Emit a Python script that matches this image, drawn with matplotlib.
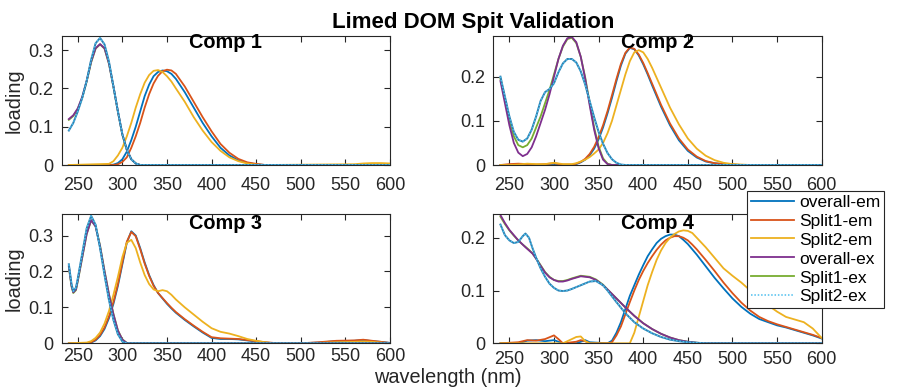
import matplotlib
matplotlib.use("Agg")
import matplotlib.pyplot as plt

plt.rcParams['font.family'] = ['Liberation Sans', 'DejaVu Sans']

# ---------------- data ----------------
series_names = ['overall-em', 'Split1-em', 'Split2-em', 'overall-ex', 'Split1-ex', 'Split2-ex']
comp_titles = ['Comp 1', 'Comp 2', 'Comp 3', 'Comp 4']
x_ticks = [250, 300, 350, 400, 450, 500, 550, 600]

# Comp 1
c1_wl_em = [240, 285, 290, 295, 300, 305, 310, 315, 320, 325, 330, 335, 340, 345, 350, 355, 360,
            370, 380, 390, 400, 410, 420, 430, 440, 450, 460, 560, 570, 580, 590, 600]
c1_overall_em = [0, 0, 0.001, 0.005, 0.015, 0.035, 0.065, 0.10, 0.14, 0.18, 0.21, 0.232, 0.243, 0.247, 0.245, 0.238, 0.225,
                 0.19, 0.15, 0.11, 0.075, 0.045, 0.025, 0.012, 0.005, 0.002, 0, 0, 0, 0, 0, 0]
c1_split1_em = [0, 0, 0, 0.002, 0.008, 0.02, 0.045, 0.075, 0.11, 0.15, 0.185, 0.213, 0.233, 0.245, 0.249, 0.247, 0.238,
                0.205, 0.165, 0.125, 0.088, 0.055, 0.032, 0.016, 0.007, 0.003, 0, 0, 0, 0, 0, 0]
c1_split2_em = [0, 0.003, 0.01, 0.025, 0.045, 0.075, 0.11, 0.15, 0.185, 0.215, 0.235, 0.246, 0.248, 0.243, 0.232, 0.218, 0.2,
                0.165, 0.125, 0.09, 0.06, 0.037, 0.02, 0.01, 0.004, 0.001, 0, 0.002, 0.004, 0.005, 0.005, 0.004]
c1_wl_ex = [240, 245, 250, 255, 260, 265, 270, 275, 280, 285, 290, 295, 300, 305, 310, 315, 320, 600]
c1_overall_ex = [0.12, 0.13, 0.148, 0.178, 0.22, 0.27, 0.305, 0.316, 0.305, 0.265, 0.205, 0.14, 0.08, 0.04, 0.015, 0.004, 0, 0]
c1_split1_ex = [0.118, 0.128, 0.146, 0.176, 0.218, 0.268, 0.304, 0.315, 0.304, 0.264, 0.204, 0.139, 0.079, 0.039, 0.015, 0.004, 0, 0]
c1_split2_ex = [0.09, 0.11, 0.14, 0.175, 0.22, 0.275, 0.318, 0.332, 0.315, 0.27, 0.205, 0.14, 0.08, 0.04, 0.015, 0.004, 0, 0]

# Comp 2
c2_wl_em = [240, 250, 260, 270, 280, 290, 300, 310, 320, 325, 330, 335, 340, 345, 350, 355, 360, 365, 370, 375,
            380, 385, 390, 395, 400, 405, 410, 420, 430, 440, 450, 460, 470, 480, 490, 500, 510, 520, 600]
c2_overall_em = [0, 0, 0, 0, 0, 0, 0, 0, 0, 0.002, 0.006, 0.012, 0.022, 0.037, 0.058, 0.085, 0.117, 0.152, 0.19, 0.225,
                 0.252, 0.265, 0.262, 0.248, 0.228, 0.205, 0.18, 0.132, 0.09, 0.056, 0.032, 0.017, 0.008, 0.004, 0.002, 0.001, 0, 0, 0]
c2_split1_em = [0, 0.002, 0.003, 0.002, 0.001, 0.002, 0.004, 0.001, 0.001, 0.003, 0.007, 0.014, 0.025, 0.041, 0.063, 0.09, 0.122, 0.158, 0.195, 0.229,
                0.254, 0.266, 0.263, 0.25, 0.231, 0.208, 0.184, 0.136, 0.094, 0.06, 0.035, 0.019, 0.009, 0.004, 0.002, 0.001, 0, 0, 0]
c2_split2_em = [0, 0, 0.001, 0.003, 0.002, 0.002, 0.005, 0.002, 0.002, 0.004, 0.008, 0.012, 0.018, 0.026, 0.035, 0.05, 0.072, 0.1, 0.135, 0.17,
                0.205, 0.235, 0.255, 0.26, 0.255, 0.24, 0.22, 0.175, 0.13, 0.092, 0.06, 0.037, 0.021, 0.011, 0.005, 0.002, 0.001, 0, 0]
c2_wl_ex = [240, 245, 250, 255, 260, 265, 270, 275, 280, 285, 290, 295, 300, 305, 310, 315, 320, 325, 330, 335,
            340, 345, 350, 355, 360, 365, 370, 375, 380, 600]
c2_overall_ex = [0.19, 0.14, 0.09, 0.05, 0.028, 0.02, 0.025, 0.04, 0.065, 0.095, 0.125, 0.16, 0.2, 0.24, 0.27, 0.287, 0.29, 0.278, 0.245, 0.195,
                 0.135, 0.08, 0.038, 0.012, 0.002, 0, 0, 0, 0, 0]
c2_split1_ex = [0.195, 0.15, 0.1, 0.065, 0.045, 0.04, 0.045, 0.06, 0.085, 0.11, 0.14, 0.17, 0.205, 0.24, 0.268, 0.285, 0.288, 0.276, 0.245, 0.198,
                0.14, 0.085, 0.042, 0.015, 0.003, 0, 0, 0, 0, 0]
c2_split2_ex = [0.2, 0.155, 0.11, 0.075, 0.057, 0.053, 0.06, 0.08, 0.11, 0.145, 0.165, 0.172, 0.185, 0.21, 0.23, 0.24, 0.24, 0.232, 0.212, 0.182,
                0.145, 0.108, 0.075, 0.048, 0.027, 0.013, 0.005, 0.001, 0, 0]

# Comp 3
c3_wl_em = [240, 260, 265, 270, 275, 280, 285, 290, 295, 300, 305, 310, 315, 320, 325, 330, 335, 340, 345, 350, 355, 360,
            370, 380, 390, 400, 410, 420, 430, 440, 450, 460, 470, 500, 520, 540, 560, 570, 580, 590, 600]
c3_overall_em = [0, 0, 0.002, 0.008, 0.02, 0.04, 0.07, 0.11, 0.16, 0.22, 0.28, 0.312, 0.3, 0.265, 0.225, 0.19, 0.162, 0.14, 0.125, 0.11, 0.097, 0.085,
                 0.065, 0.047, 0.03, 0.015, 0.012, 0.012, 0.011, 0.008, 0.005, 0.002, 0, 0, 0.002, 0.006, 0.007, 0.009, 0.006, 0.004, 0.001]
c3_split1_em = [0, 0, 0.003, 0.01, 0.023, 0.044, 0.075, 0.115, 0.165, 0.225, 0.283, 0.31, 0.298, 0.262, 0.222, 0.188, 0.16, 0.14, 0.126, 0.112, 0.099, 0.087,
                0.067, 0.049, 0.032, 0.017, 0.014, 0.013, 0.012, 0.009, 0.006, 0.003, 0.001, 0, 0.003, 0.007, 0.008, 0.01, 0.007, 0.004, 0.001]
c3_split2_em = [0, 0.002, 0.006, 0.015, 0.03, 0.055, 0.09, 0.135, 0.185, 0.24, 0.28, 0.288, 0.265, 0.225, 0.19, 0.165, 0.15, 0.145, 0.148, 0.145, 0.135, 0.122,
                0.1, 0.08, 0.06, 0.042, 0.032, 0.027, 0.02, 0.012, 0.007, 0.003, 0, 0, 0.001, 0.003, 0.004, 0.005, 0.004, 0.002, 0]
c3_wl_ex = [240, 243, 245, 248, 250, 255, 260, 265, 270, 275, 280, 285, 290, 295, 300, 305, 310, 600]
c3_overall_ex = [0.215, 0.16, 0.142, 0.15, 0.175, 0.24, 0.305, 0.343, 0.325, 0.27, 0.2, 0.135, 0.08, 0.035, 0.01, 0.001, 0, 0]
c3_split1_ex = [0.212, 0.158, 0.14, 0.148, 0.172, 0.238, 0.304, 0.342, 0.326, 0.272, 0.202, 0.137, 0.082, 0.036, 0.011, 0.001, 0, 0]
c3_split2_ex = [0.22, 0.165, 0.145, 0.155, 0.18, 0.25, 0.32, 0.355, 0.33, 0.265, 0.19, 0.12, 0.065, 0.025, 0.005, 0, 0, 0]

# Comp 4
c4_wl_em = [240, 260, 270, 280, 290, 300, 305, 310, 325, 330, 335, 340,
            360, 365, 370, 375, 380, 385, 390, 395, 400, 405, 410, 415, 420, 425, 430, 435, 440, 445, 450, 455, 460,
            470, 480, 490, 500, 510, 520, 530, 540, 550, 560, 570, 580, 590, 600]
c4_overall_em = [0, 0, 0.005, 0.006, 0.004, 0.006, 0.003, 0, 0, 0.003, 0.006, 0.002,
                 0, 0.005, 0.02, 0.04, 0.065, 0.09, 0.11, 0.13, 0.148, 0.165, 0.178, 0.19, 0.198, 0.203, 0.206, 0.206, 0.203, 0.196, 0.188, 0.178, 0.168,
                 0.146, 0.124, 0.104, 0.085, 0.069, 0.056, 0.046, 0.04, 0.034, 0.03, 0.025, 0.02, 0.015, 0.009]
c4_split1_em = [0, 0.002, 0.006, 0.005, 0.008, 0.015, 0.008, 0, 0.003, 0.006, 0.004, 0,
                0, 0.002, 0.015, 0.032, 0.055, 0.078, 0.1, 0.12, 0.137, 0.152, 0.165, 0.177, 0.187, 0.195, 0.2, 0.203, 0.203, 0.2, 0.195, 0.187, 0.178,
                0.158, 0.137, 0.115, 0.095, 0.077, 0.062, 0.05, 0.042, 0.036, 0.031, 0.026, 0.021, 0.016, 0.01]
c4_split2_em = [0, 0, 0, 0, 0, 0, 0, 0, 0.012, 0.013, 0.004, 0,
                0, 0, 0, 0, 0, 0, 0.02, 0.05, 0.08, 0.11, 0.135, 0.158, 0.176, 0.19, 0.2, 0.207, 0.212, 0.214, 0.213, 0.209, 0.2,
                0.182, 0.162, 0.142, 0.128, 0.115, 0.1, 0.085, 0.072, 0.06, 0.05, 0.045, 0.04, 0.028, 0.01]
c4_wl_ex = [240, 245, 250, 255, 260, 265, 268, 272, 276, 280, 285, 290, 295, 300, 305, 310, 315, 320,
            330, 340, 347, 355, 360, 370, 380, 390, 400, 410, 420, 430, 440, 450, 460, 470, 500, 600]
c4_overall_ex = [0.243, 0.228, 0.215, 0.205, 0.195, 0.187, 0.182, 0.176, 0.17, 0.16, 0.147, 0.134, 0.125, 0.12, 0.117, 0.117, 0.119, 0.122,
                 0.127, 0.125, 0.12, 0.11, 0.102, 0.085, 0.068, 0.052, 0.038, 0.027, 0.018, 0.011, 0.006, 0.003, 0.001, 0, 0, 0]
c4_split1_ex = [0.24, 0.226, 0.214, 0.204, 0.195, 0.187, 0.183, 0.177, 0.17, 0.161, 0.148, 0.135, 0.126, 0.12, 0.118, 0.118, 0.12, 0.123,
                0.128, 0.126, 0.121, 0.111, 0.102, 0.085, 0.068, 0.052, 0.038, 0.027, 0.018, 0.011, 0.006, 0.003, 0.001, 0, 0, 0]
c4_split2_ex = [0.225, 0.205, 0.195, 0.19, 0.192, 0.203, 0.208, 0.2, 0.18, 0.162, 0.142, 0.126, 0.113, 0.105, 0.1, 0.099, 0.1, 0.103,
                0.11, 0.117, 0.118, 0.11, 0.1, 0.078, 0.057, 0.04, 0.028, 0.019, 0.012, 0.007, 0.004, 0.002, 0.001, 0, 0, 0]

y_limits = [0.337, 0.292, 0.36, 0.245]
y_ticks = [[0, 0.1, 0.2, 0.3], [0, 0.1, 0.2], [0, 0.1, 0.2, 0.3], [0, 0.1, 0.2]]

comps = [
    (c1_wl_em, [c1_overall_em, c1_split1_em, c1_split2_em], c1_wl_ex, [c1_overall_ex, c1_split1_ex, c1_split2_ex]),
    (c2_wl_em, [c2_overall_em, c2_split1_em, c2_split2_em], c2_wl_ex, [c2_overall_ex, c2_split1_ex, c2_split2_ex]),
    (c3_wl_em, [c3_overall_em, c3_split1_em, c3_split2_em], c3_wl_ex, [c3_overall_ex, c3_split1_ex, c3_split2_ex]),
    (c4_wl_em, [c4_overall_em, c4_split1_em, c4_split2_em], c4_wl_ex, [c4_overall_ex, c4_split1_ex, c4_split2_ex]),
]

# ---------------- style ----------------
colors = ['#0072BD', '#D95319', '#EDB120', '#7E2F8E', '#77AC30', '#4DBEEE']
zorders = [2, 2.1, 2.2, 2.5, 2.4, 2.6]
ex2_under = '#2F7FAE'   # darker tone seen under the dotted Split2-ex trace
axc = '#262626'

W, H = 897, 390
fig = plt.figure(figsize=(W / 100, H / 100), dpi=100)

# axes boxes in pixels: left, top, right, bottom
boxes = [(61.7, 36, 390, 165), (493.3, 36, 821.7, 165),
         (61.7, 214, 390, 343.3), (493.3, 214, 821.7, 343.3)]
title_y = [0.91, 0.905, 0.885, 0.885]
xpads = [8.5, 8.5, 3.5, 5.5]

handles = []
for i, (wl_em, ems, wl_ex, exs) in enumerate(comps):
    l, t, r, b = boxes[i]
    ax = fig.add_axes([l / W, 1 - b / H, (r - l) / W, (b - t) / H])
    for k, y in enumerate(ems):
        h, = ax.plot(wl_em, y, color=colors[k], lw=1.3, zorder=zorders[k])
        if i == 0:
            handles.append(h)
    for k, y in enumerate(exs):
        if k == 2:
            ax.plot(wl_ex, y, color=ex2_under, lw=1.4, zorder=zorders[k + 3])
            h, = ax.plot(wl_ex, y, color=colors[k + 3], lw=1.1, ls=(0, (1, 1.2)), zorder=zorders[k + 3] + 0.05)
        else:
            h, = ax.plot(wl_ex, y, color=colors[k + 3], lw=1.3, zorder=zorders[k + 3])
        if i == 0:
            handles.append(h)
    ax.set_xlim(232, 600)
    ax.set_ylim(0, y_limits[i])
    ax.set_xticks(x_ticks)
    ax.set_yticks(y_ticks[i])
    ax.set_yticklabels(['0' if v == 0 else f'{v:g}' for v in y_ticks[i]])
    ax.tick_params(direction='in', top=True, right=True, length=4, width=0.8,
                   colors=axc, labelsize=13, labelcolor=axc)
    ax.tick_params(axis='x', pad=xpads[i])
    ax.tick_params(axis='y', pad=6)
    for s in ax.spines.values():
        s.set_color(axc)
        s.set_linewidth(0.8)
    ax.text(0.5, title_y[i], comp_titles[i], transform=ax.transAxes, ha='center', va='baseline',
            fontsize=14.3, fontweight='bold', color='black', zorder=5)
    if i in (0, 2):
        ax.set_ylabel('loading', fontsize=14.3, color=axc)
        ax.yaxis.set_label_coords(-0.115, 0.5)

fig.text(473 / W, 1 - 28 / H, 'Limed DOM Spit Validation', ha='center', va='baseline',
         fontsize=16, fontweight='bold', color='black')
fig.text(447.5 / W, 1 - 383 / H, 'wavelength (nm)', ha='center', va='baseline',
         fontsize=14.3, color=axc)

leg = fig.legend(handles=handles, labels=series_names, loc='upper right',
                 bbox_to_anchor=(884 / W, 1 - 191 / H), bbox_transform=fig.transFigure,
                 fontsize=12.5, frameon=True, fancybox=False, framealpha=1,
                 handlelength=2.5, handletextpad=0.3, labelspacing=0.22, borderpad=0.2,
                 borderaxespad=0)
leg.get_frame().set_edgecolor(axc)
leg.get_frame().set_linewidth(0.8)
for txt in leg.get_texts():
    txt.set_color('black')

fig.savefig('out.png', dpi=100)
